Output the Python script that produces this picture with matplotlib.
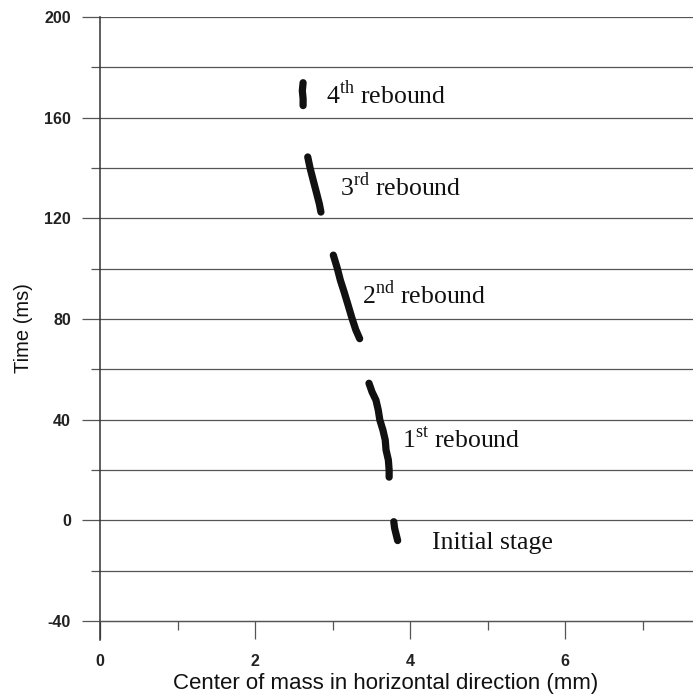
import matplotlib
matplotlib.use("Agg")
import matplotlib.pyplot as plt
from matplotlib.ticker import MultipleLocator

# Data
init_x = [3.79, 3.80, 3.82, 3.84]
init_y = [-0.5, -3.0, -5.5, -8.0]
r1_x = [3.47, 3.51, 3.56, 3.59, 3.61, 3.65, 3.68, 3.69, 3.72, 3.73, 3.73]
r1_y = [54.5, 51.0, 47.8, 43.8, 39.9, 35.9, 31.9, 28.0, 24.0, 20.0, 17.2]
r2_x = [3.01, 3.06, 3.10, 3.15, 3.20, 3.25, 3.30, 3.35]
r2_y = [105.4, 100.3, 95.5, 90.7, 85.6, 80.4, 75.7, 72.2]
r3_x = [2.68, 2.71, 2.75, 2.79, 2.83, 2.85]
r3_y = [144.4, 140.0, 135.2, 130.5, 125.7, 122.5]
r4_x = [2.62, 2.61, 2.62, 2.62]
r4_y = [173.9, 170.7, 167.6, 164.8]

labels = ["Initial stage", "1$^{\\mathrm{st}}$ rebound", "2$^{\\mathrm{nd}}$ rebound",
          "3$^{\\mathrm{rd}}$ rebound", "4$^{\\mathrm{th}}$ rebound"]
label_x = [4.28, 3.90, 3.38, 3.10, 2.92]
label_y = [-8.8, 32.0, 89.6, 132.7, 169.0]

xticks = [0, 2, 4, 6]
yticks = [-40, 0, 40, 80, 120, 160, 200]

plt.rcParams['mathtext.fontset'] = 'custom'
plt.rcParams['mathtext.rm'] = 'Liberation Serif'
plt.rcParams['axes.unicode_minus'] = False

fig = plt.figure(figsize=(6.93, 6.96), dpi=100)
ax = fig.add_axes([100/693, 56/696, 1 - 100/693, (640-17)/696])
ax.set_xlim(0, 7.65)
ax.set_ylim(-47.5, 200)

grid_c = '#555555'
for yv in range(-40, 201, 20):
    ax.axhline(yv, color=grid_c, lw=0.9, zorder=1)

for xs, ys in [(init_x, init_y), (r1_x, r1_y), (r2_x, r2_y), (r3_x, r3_y), (r4_x, r4_y)]:
    ax.plot(xs, ys, color='#111111', lw=5.2, solid_capstyle='round',
            solid_joinstyle='round', zorder=3)

for t, lx, ly in zip(labels, label_x, label_y):
    ax.text(lx, ly, t, fontsize=18.5, family='Liberation Serif', va='center', ha='left',
            color='#111111')

for s in ['top', 'right']:
    ax.spines[s].set_visible(False)
ax.spines['bottom'].set_position(('data', -40))
ax.spines['bottom'].set_color(grid_c)
ax.spines['bottom'].set_linewidth(0.9)
ax.spines['left'].set_color('#333333')
ax.spines['left'].set_linewidth(1.1)

ax.set_xticks(xticks)
ax.set_yticks(yticks)
ax.xaxis.set_minor_locator(MultipleLocator(1))
ax.yaxis.set_minor_locator(MultipleLocator(20))
ax.tick_params(axis='both', which='major', length=13, width=0.9, color=grid_c,
               labelsize=11.5, labelcolor='#222222')
ax.tick_params(axis='both', which='minor', length=6.5, width=0.9, color=grid_c)
ax.tick_params(axis='x', which='major', pad=11)
ax.tick_params(axis='y', which='major', pad=8)
for lab in ax.get_xticklabels() + ax.get_yticklabels():
    lab.set_family('Liberation Sans')
    lab.set_fontweight('bold')

ax.set_xlabel("Center of mass in horizontal direction (mm)", fontsize=16,
              family='Liberation Sans', color='#111111')
ax.xaxis.set_label_coords(0.481, -0.053)
ax.set_ylabel("Time (ms)", fontsize=14.5, family='Liberation Sans', color='#111111',
              labelpad=8)

fig.savefig("out.png", dpi=100)
